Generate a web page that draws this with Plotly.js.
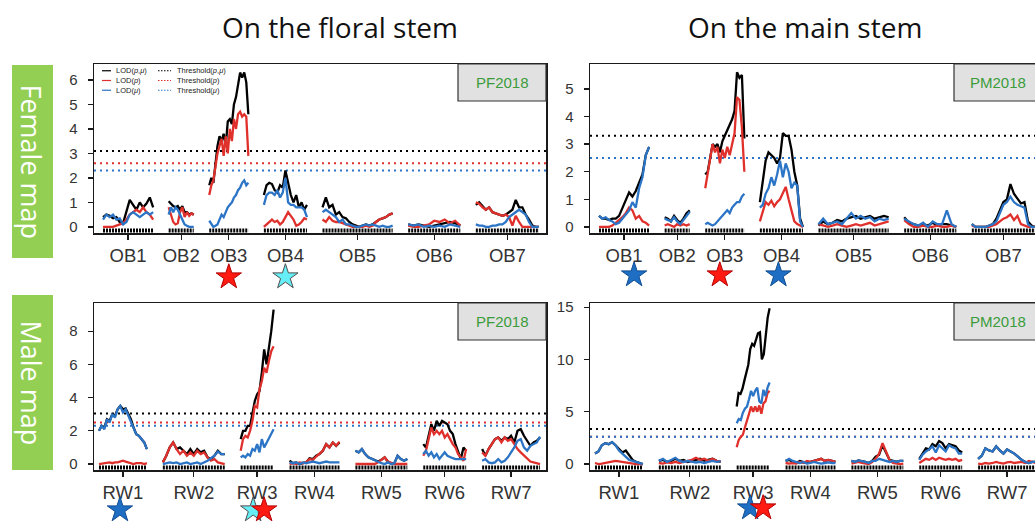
<!DOCTYPE html>
<html><head><meta charset="utf-8">
<script src="https://cdn.plot.ly/plotly-3.0.1.min.js"></script>
<style>html,body{margin:0;padding:0;overflow:hidden;background:#fff}#g{width:1042px;height:525px}</style>
</head><body><div id="g"></div><script>
const W = 1042, H = 525;

// ---- maps ----
const FEMALE_CHR = ['OB1','OB2','OB3','OB4','OB5','OB6','OB7'];
const FEMALE_LEN = [100, 50, 78, 86, 140, 104, 126];
const FEMALE_GAP = 31;
const MALE_CHR = ['RW1','RW2','RW3','RW4','RW5','RW6','RW7'];
const MALE_LEN = [96, 124, 66, 100, 104, 86, 116];
const MALE_GAP = 32;

// ---- Female map, floral stem (PF2018) ----
const PF_F_PMU = [
 [0.4,0.5,0.45,0.35,0.4,0.2,0.15,0.6,1.1,0.9,0.7,1.0,0.8,0.95,1.2,0.8],
 [1.05,0.95,0.85,0.8,0.85,0.7,0.85,0.6,0.6,0.5,0.55,0.5],
 [1.7,2.0,1.8,2.6,3.3,3.7,3.5,3.8,3.3,4.3,4.4,4.2,5.0,5.3,5.9,6.3,6.1,6.3,5.9,4.6],
 [1.3,1.7,1.8,1.75,1.5,1.4,1.7,1.6,2.3,1.8,1.3,1.0,1.3,0.8,1.0,0.7,0.9],
 [0.8,1.2,0.8,0.9,0.5,0.6,0.4,0.35,0.2,0.1,0.05,0.0,0.05,0.1,0.05,0.1,0.2,0.3,0.35,0.4,0.5,0.55],
 [0.1,0.05,0.1,0.05,0.0,0.05,0.1,0.15,0.2,0.15,0.05],
 [0.9,1.0,0.85,0.7,0.8,0.6,0.55,0.5,0.45,0.5,0.6,0.7,1.1,0.8,0.8,0.5,0.3,0.05,0.0,0.0]
];
const PF_F_P = [
 [0.0,0.0,0.0,0.0,0.05,0.1,0.15,0.3,0.5,0.6,0.7,0.6,0.8,0.6,0.5,0.3],
 [0.8,0.5,0.2,0.1,0.15,0.6,0.8,0.4,0.6,0.45,0.55,0.5],
 [1.3,1.7,1.9,2.5,3.0,3.3,3.6,2.9,3.7,3.0,4.0,3.5,4.4,4.0,4.6,4.7,4.5,4.6,4.5,2.9],
 [0.0,0.1,0.2,0.3,0.2,0.25,0.1,0.2,0.4,0.6,0.45,0.3,0.05,0.1,0.2,0.35,0.3],
 [0.3,0.2,0.4,0.25,0.2,0.2,0.15,0.1,0.05,0.0,0.0,0.0,0.0,0.05,0.0,0.05,0.2,0.3,0.35,0.4,0.5,0.55],
 [0.05,0.0,0.0,0.05,0.1,0.25,0.2,0.3,0.15,0.25,0.05],
 [1.0,0.95,0.8,0.7,0.8,0.6,0.55,0.5,0.45,0.5,0.4,0.05,0.45,0.2,0.0,0.0,0.0,0.0,0.0,0.0]
];
const PF_F_MU = [
 [0.3,0.5,0.4,0.5,0.3,0.35,0.1,0.2,0.5,0.6,0.5,0.4,0.5,0.6,0.5,0.6],
 [0.5,0.8,0.6,0.8,0.7,0.5,0.3,0.1,0.05,0.0,0.0,0.0],
 [0.25,0.1,0.0,0.05,0.1,0.3,0.5,0.4,0.6,0.8,0.9,1.0,1.2,1.3,1.5,1.6,1.8,1.9,1.7,1.8],
 [0.9,1.3,1.4,1.4,1.3,1.5,1.2,1.4,2.0,1.0,0.9,0.9,0.8,0.8,0.8,0.7,0.4],
 [0.6,0.7,0.6,0.5,0.4,0.2,0.3,0.1,0.1,0.05,0.0,0.0,0.05,0.1,0.05,0.1,0.05,0.0,0.05,0.0,0.0,0.05],
 [0.1,0.05,0.1,0.0,0.05,0.0,0.05,0.0,0.1,0.05,0.0],
 [0.1,0.05,0.05,0.0,0.0,0.05,0.05,0.1,0.1,0.2,0.4,0.5,0.6,0.7,0.6,0.5,0.2,0.0,0.0,0.0]
];
const PF_F_THR = [3.1, 2.6, 2.3];   // p,mu ; p ; mu

// ---- Female map, main stem (PM2018) ----
const PM_F_PMU = [
 [0.4,0.3,0.3,0.25,0.3,0.3,0.4,0.7,1.0,1.25,1.1,1.3,1.6,1.9,2.6,2.9],
 [0.35,0.3,0.2,0.4,0.25,0.15,0.3,0.5,0.6],
 [1.9,2.0,2.5,3.0,2.9,3.0,2.7,3.1,3.3,3.5,3.7,3.9,4.2,5.6,5.4,5.5,3.2],
 [0.9,1.6,2.4,2.7,2.6,2.5,2.3,2.5,3.4,3.3,3.3,2.8,2.0,1.5,0.3,0.0],
 [0.05,0.2,0.1,0.15,0.25,0.2,0.3,0.35,0.4,0.3,0.35,0.4,0.3,0.35,0.4,0.35],
 [0.35,0.15,0.1,0.05,0.1,0.05,0.15,0.05,0.1,0.1,0.05,0.0],
 [0.1,0.0,0.0,0.0,0.0,0.05,0.1,0.3,0.6,0.9,1.0,1.55,1.2,1.0,0.85,0.9,0.2,0.05,0.0]
];
const PM_F_P = [
 [0.0,0.0,0.0,0.0,0.05,0.15,0.25,0.35,0.5,0.7,0.6,0.3,0.4,0.2,0.15,0.05],
 [0.05,0.1,0.05,0.0,0.1,0.05,0.1,0.05,0.1],
 [1.4,1.9,2.5,3.0,2.7,2.9,2.3,2.8,2.5,2.9,2.6,3.0,3.4,4.7,4.6,3.6,2.0],
 [0.2,0.6,0.9,0.8,0.95,0.75,0.9,1.0,1.2,1.45,1.0,0.6,0.2,0.1,0.05,0.0],
 [0.1,0.05,0.0,0.05,0.1,0.05,0.0,0.05,0.1,0.05,0.1,0.15,0.05,0.1,0.15,0.2],
 [0.25,0.1,0.0,0.0,0.05,0.0,0.0,0.05,0.0,0.0,0.05,0.0],
 [0.05,0.0,0.0,0.0,0.0,0.0,0.05,0.1,0.2,0.3,0.35,0.45,0.25,0.4,0.1,0.05,0.0,0.0,0.0]
];
const PM_F_MU = [
 [0.4,0.3,0.35,0.25,0.2,0.1,0.15,0.3,0.45,0.6,0.9,0.7,1.4,1.8,2.6,2.9],
 [0.3,0.25,0.2,0.35,0.2,0.1,0.25,0.4,0.55],
 [0.1,0.15,0.1,0.05,0.1,0.2,0.3,0.4,0.5,0.6,0.5,0.7,0.8,0.9,0.9,1.1,1.2],
 [0.7,0.8,1.2,1.4,1.8,1.5,1.9,2.4,1.8,2.3,2.0,1.4,1.6,1.5,0.2,0.0],
 [0.1,0.3,0.1,0.15,0.2,0.1,0.3,0.5,0.3,0.4,0.3,0.35,0.2,0.3,0.25,0.3],
 [0.3,0.2,0.1,0.05,0.15,0.0,0.2,0.1,0.1,0.6,0.1,0.0],
 [0.1,0.0,0.0,0.0,0.0,0.05,0.1,0.2,0.5,0.8,0.9,1.1,0.9,0.8,0.75,0.7,0.1,0.0,0.0]
];
const PM_F_THR = [3.3, 2.5, 2.5];

// ---- Male map, floral stem (PF2018) ----
const PF_M_PMU = [
 [2.0,2.3,2.2,2.7,2.6,3.0,2.9,3.3,3.5,3.3,3.35,3.0,2.7,2.2,1.8,1.7,1.5,1.3,0.9],
 [0.1,0.5,1.0,1.3,0.9,1.0,0.8,0.6,0.9,0.6,0.9,0.7,0.8,0.4,0.3,0.5,0.8,0.6,0.6],
 [1.5,2.0,2.0,2.3,2.3,3.0,3.8,4.2,4.4,5.5,6.9,6.0,6.9,8.0,9.3],
 [0.2,0.05,0.1,0.0,0.05,0.1,0.35,0.3,0.5,0.6,0.8,1.2,1.0,1.3,1.1,1.3],
 [0.8,0.7,0.9,0.6,0.4,0.3,0.2,0.15,0.25,0.4,0.15,0.05,0.05,0.5,0.3,0.2,0.3],
 [1.2,1.0,1.7,2.4,2.0,2.6,2.3,2.6,2.5,2.4,2.0,1.8,1.2,0.7,0.3,1.0,0.8],
 [0.9,0.5,0.9,1.2,1.5,1.6,1.4,1.6,1.5,1.7,1.3,2.0,2.1,1.7,1.4,1.1,1.3,1.4,1.6]
];
const PF_M_P = [
 [0.0,0.02,0.05,0.05,0.1,0.05,0.1,0.1,0.15,0.2,0.15,0.1,0.05,0.0,0.05,0.05,0.05,0.0,0.05],
 [0.1,0.5,1.0,1.3,0.9,0.6,0.8,0.5,0.7,0.5,0.8,0.6,0.7,0.4,0.2,0.3,0.1,0.05,0.0],
 [0.8,1.5,1.7,1.6,2.0,2.6,3.5,3.4,4.5,5.0,5.8,5.5,6.2,6.8,7.1],
 [0.0,0.05,0.0,0.1,0.05,0.1,0.3,0.25,0.45,0.6,0.8,1.2,1.0,1.3,1.1,1.35],
 [0.0,0.0,0.0,0.0,0.0,0.0,0.0,0.1,0.25,0.4,0.15,0.05,0.0,0.0,0.0,0.0,0.0],
 [0.5,0.8,1.5,2.2,1.8,2.0,1.8,2.0,1.6,1.8,1.5,1.2,1.0,0.6,0.4,0.2,0.9],
 [0.7,0.5,0.9,1.2,1.5,1.6,1.3,1.6,1.4,1.5,1.2,0.9,0.7,0.5,0.3,0.15,0.1,0.05,0.0]
];
const PF_M_MU = [
 [2.0,2.3,2.1,2.7,2.5,3.0,2.8,3.3,3.5,3.1,3.3,2.9,2.5,2.2,1.8,1.7,1.5,1.3,0.9],
 [0.0,0.05,0.1,0.05,0.1,0.0,0.05,0.1,0.0,0.05,0.1,0.0,0.1,0.2,0.35,0.5,0.75,0.6,0.6],
 [0.4,0.5,0.4,0.6,0.5,0.9,0.8,1.2,0.7,1.5,1.0,1.3,1.6,1.8,2.1],
 [0.1,0.05,0.1,0.0,0.1,0.05,0.1,0.15,0.1,0.05,0.1,0.15,0.1,0.1,0.1,0.1],
 [0.8,0.7,0.9,0.6,0.4,0.3,0.2,0.1,0.05,0.0,0.1,0.0,0.05,0.5,0.3,0.2,0.3],
 [0.6,0.8,0.5,0.7,0.4,0.6,0.3,0.5,0.7,0.5,0.4,0.35,0.3,0.3,0.3,0.3,0.3],
 [0.2,0.3,0.1,0.05,0.1,0.3,0.1,0.2,0.4,0.7,1.0,1.4,1.5,1.0,0.8,1.1,1.2,1.3,1.65]
];
const PF_M_THR = [3.05, 2.5, 2.3];

// ---- Male map, main stem (PM2018) ----
const PM_M_PMU = [
 [1.0,1.2,1.8,2.0,1.9,2.1,1.8,1.4,1.1,1.3,0.8,0.4,0.2,0.1,0.0],
 [0.3,0.4,0.2,0.3,0.5,0.3,0.4,0.2,0.3,0.4,0.5,0.3,0.4,0.5,0.3,0.2],
 [5.5,6.8,6.7,7.2,8.0,8.8,9.5,11.0,11.5,11.3,12.0,12.5,12.6,10.0,10.5,12.5,14.0,14.9],
 [0.3,0.4,0.2,0.1,0.3,0.2,0.1,0.2,0.3,0.4,0.5,0.3,0.4,0.3,0.2],
 [0.3,0.2,0.35,0.3,0.2,0.1,0.3,0.7,0.9,1.8,1.1,0.4,0.3,0.2,0.3,0.3],
 [0.5,1.0,1.5,1.4,1.9,1.7,2.2,2.0,1.5,1.9,1.8,1.7,1.3,1.1],
 [0.5,0.8,1.5,1.3,1.2,1.7,1.3,1.0,1.4,1.2,1.0,0.7,0.4,0.2,0.1,0.2,0.2]
];
const PM_M_P = [
 [0.1,0.0,0.05,0.1,0.15,0.2,0.3,0.25,0.2,0.1,0.05,0.0,0.0,0.0,0.0],
 [0.1,0.05,0.15,0.1,0.2,0.1,0.2,0.3,0.4,0.6,0.4,0.5,0.3,0.5,0.3,0.2],
 [1.6,2.3,2.6,2.8,3.5,4.3,4.8,5.5,5.0,5.5,5.0,5.6,4.8,5.8,6.0,6.8,7.0],
 [0.1,0.05,0.1,0.05,0.2,0.1,0.3,0.2,0.3,0.4,0.5,0.3,0.4,0.3,0.2],
 [0.05,0.1,0.2,0.1,0.05,0.0,0.2,0.5,1.0,2.0,1.2,0.4,0.1,0.05,0.0,0.05],
 [0.1,0.3,0.5,0.4,0.6,0.4,0.6,0.5,0.4,0.5,0.4,0.5,0.3,0.4],
 [0.05,0.0,0.1,0.05,0.1,0.2,0.1,0.05,0.15,0.2,0.1,0.15,0.2,0.1,0.3,0.2,0.1]
];
const PM_M_MU = [
 [1.0,1.2,1.8,2.0,1.9,2.1,1.8,1.3,1.0,0.7,0.4,0.3,0.2,0.1,0.0],
 [0.3,0.5,0.2,0.4,0.6,0.3,0.2,0.3,0.2,0.15,0.2,0.1,0.2,0.3,0.2,0.25],
 [3.9,4.3,4.2,4.9,5.3,5.5,6.2,7.0,6.5,7.0,7.3,6.0,5.8,7.1,6.5,7.3,7.8],
 [0.3,0.5,0.3,0.2,0.1,0.2,0.05,0.1,0.2,0.1,0.05,0.1,0.15,0.1,0.1],
 [0.3,0.2,0.35,0.3,0.2,0.1,0.3,0.3,0.5,0.4,0.3,0.2,0.3,0.2,0.3,0.3],
 [0.4,0.9,1.2,1.4,1.7,1.1,1.8,1.5,1.2,1.8,1.6,1.5,1.0,1.0],
 [0.5,0.8,1.5,1.3,1.2,1.7,1.3,1.0,1.4,1.2,1.0,0.7,0.4,0.2,0.1,0.2,0.2]
];
const PM_M_THR = [3.35, 2.6, 2.6];

// ---- QTL stars under the chromosomes (chromosome, LOD type) ----
const PF_F_STAR_CHR = ['OB3','OB4'];       const PF_F_STAR_TYPE = ['p','joint'];
const PM_F_STAR_CHR = ['OB1','OB3','OB4']; const PM_F_STAR_TYPE = ['mu','p','mu'];
const PF_M_STAR_CHR = ['RW1','RW3','RW3']; const PF_M_STAR_TYPE = ['mu','joint','p'];
const PM_M_STAR_CHR = ['RW3','RW3'];       const PM_M_STAR_TYPE = ['mu','p'];

// ---- legend texts ----
const LOD_LABELS = ['LOD(<i>p</i>,<i>μ</i>)','LOD(<i>p</i>)','LOD(<i>μ</i>)'];
const THR_LABELS = ['Threshold(<i>p</i>,<i>μ</i>)','Threshold(<i>p</i>)','Threshold(<i>μ</i>)'];

// ---------------- drawing ----------------
const COL = {pmu:'#000000', p:'#e0302c', mu:'#2b74c6'};
const STAR_STYLE = {
  p:{fill:'#ff1a12', line:'#b30000'},
  mu:{fill:'#1e6ec4', line:'#0f4c92'},
  joint:{fill:'#66eef6', line:'#4d4d4d'}
};
const TXT = 'Liberation Sans, Arial, sans-serif';

function starts(len, gap){ const s=[]; let c=0; for(const l of len){ s.push(c); c+=l+gap; } return s; }
function series(vals, len, gap){
  const st = starts(len, gap), x=[], y=[];
  vals.forEach((v,i)=>{ const n=v.length; v.forEach((val,k)=>{ x.push(st[i]+len[i]*k/(n-1)); y.push(val); }); x.push(null); y.push(null); });
  return {x, y};
}

const panels = [
  {chr:FEMALE_CHR, len:FEMALE_LEN, gap:FEMALE_GAP, pmu:PF_F_PMU, p:PF_F_P, mu:PF_F_MU, thr:PF_F_THR, tag:'PF2018',
   starChr:PF_F_STAR_CHR, starType:PF_F_STAR_TYPE, starOff:[0,0], starY:277,
   px:[94,546], py:[64,233], xr:[-18,884], yr:[-0.25,6.65], dtick:1},
  {chr:FEMALE_CHR, len:FEMALE_LEN, gap:FEMALE_GAP, pmu:PM_F_PMU, p:PM_F_P, mu:PM_F_MU, thr:PM_F_THR, tag:'PM2018',
   starChr:PM_F_STAR_CHR, starType:PM_F_STAR_TYPE, starOff:[20,-10,-6], starY:275,
   px:[590,1042], py:[64,233], xr:[-18,884], yr:[-0.22,5.9], dtick:1},
  {chr:MALE_CHR, len:MALE_LEN, gap:MALE_GAP, pmu:PF_M_PMU, p:PF_M_P, mu:PF_M_MU, thr:PF_M_THR, tag:'PF2018',
   starChr:PF_M_STAR_CHR, starType:PF_M_STAR_TYPE, starOff:[-6,-8,14], starY:511,
   px:[94,546], py:[303,470], xr:[-10,896], yr:[-0.36,9.7], dtick:2},
  {chr:MALE_CHR, len:MALE_LEN, gap:MALE_GAP, pmu:PM_M_PMU, p:PM_M_P, mu:PM_M_MU, thr:PM_M_THR, tag:'PM2018',
   starChr:PM_M_STAR_CHR, starType:PM_M_STAR_TYPE, starOff:[-6,20], starY:508,
   px:[590,1042], py:[303,470], xr:[-10,896], yr:[-0.57,15.4], dtick:5}
];

const traces = [], shapes = [], annotations = [];
const layout = {width:W, height:H, margin:{l:0,r:0,t:0,b:0}, showlegend:false,
  paper_bgcolor:'#fff', plot_bgcolor:'#fff', shapes, annotations};

panels.forEach((P, idx) => {
  const i = idx+1;
  const xa = i===1 ? 'x' : 'x'+i, ya = i===1 ? 'y' : 'y'+i, sa = 'y'+(i+4);
  const st = starts(P.len, P.gap);
  const centers = st.map((s,k)=>s+P.len[k]/2);
  const axLine = {showline:true, mirror:true, linecolor:'#1a1a1a', linewidth:1.5, showgrid:false, zeroline:false,
    ticks:'outside', ticklen:5, tickwidth:1.3, tickcolor:'#1a1a1a', fixedrange:true};
  layout['xaxis'+(i===1?'':i)] = Object.assign({}, axLine, {domain:[P.px[0]/W, P.px[1]/W], range:P.xr, anchor:ya,
    tickmode:'array', tickvals:centers, ticktext:P.chr, tickfont:{family:TXT, size:18.5, color:'#333'}});
  layout['yaxis'+(i===1?'':i)] = Object.assign({}, axLine, {domain:[1-P.py[1]/H, 1-P.py[0]/H], range:P.yr, anchor:xa,
    tick0:0, dtick:P.dtick, tickfont:{family:TXT, size:15, color:'#333'}, ticklabelstandoff:7});
  layout['yaxis'+(i+4)] = {domain:[1-(P.starY+16)/H, 1-(P.starY-16)/H], range:[-1,1], anchor:xa, visible:false, fixedrange:true};

  // thresholds
  const thrCol = [COL.pmu, COL.p, COL.mu];
  P.thr.forEach((t,k)=>{
    traces.push({type:'scatter', mode:'lines', xaxis:xa, yaxis:ya, x:[P.xr[0], P.xr[1]], y:[t,t],
      line:{color:thrCol[k], width:2, dash:'2px,4px'}, hoverinfo:'skip'});
  });
  // marker rug
  const ppu = (P.py[1]-P.py[0])/(P.yr[1]-P.yr[0]);
  const rx=[], ry=[];
  st.forEach((s,k)=>{ rx.push(s, s+P.len[k], null); const yy=P.yr[0]+2.5/ppu; ry.push(yy, yy, null); });
  traces.push({type:'scatter', mode:'lines', xaxis:xa, yaxis:ya, x:rx, y:ry, line:{color:'#000', width:4, dash:'2px,1px'}, hoverinfo:'skip'});
  // LOD curves
  [['pmu',P.pmu],['p',P.p],['mu',P.mu]].forEach(([k,vals])=>{
    const s = series(vals, P.len, P.gap);
    traces.push({type:'scatter', mode:'lines', xaxis:xa, yaxis:ya, x:s.x, y:s.y, connectgaps:false,
      line:{color:COL[k], width:2.3}, hoverinfo:'skip'});
  });
  // stars
  P.starChr.forEach((c,k)=>{
    const ci = P.chr.indexOf(c); const sty = STAR_STYLE[P.starType[k]];
    traces.push({type:'scatter', mode:'markers', xaxis:xa, yaxis:sa, x:[centers[ci]+P.starOff[k]], y:[0],
      marker:{symbol:'star', size:19, color:sty.fill, line:{color:sty.line, width:1}}, hoverinfo:'skip'});
  });
  // tag box
  const bx1 = P.px[1], bx0 = bx1-88, by0 = P.py[0], by1 = P.py[0]+37;
  shapes.push({type:'rect', xref:'paper', yref:'paper', x0:bx0/W, x1:bx1/W, y0:1-by1/H, y1:1-by0/H,
    fillcolor:'#e1e1e1', line:{color:'#333', width:1.2}, layer:'above'});
  annotations.push({xref:'paper', yref:'paper', x:(bx0+bx1)/2/W, y:1-(by0+by1)/2/H, text:P.tag, showarrow:false,
    font:{family:TXT, size:15, color:'#3a9c3a'}, xanchor:'center', yanchor:'middle'});
});

// legend (panel 1): one text block per column, key lines beside each row
const legFont = 7.5, legLine = legFont*1.3, legMid = 80.5;
const legCol = [COL.pmu, COL.p, COL.mu];
[0,1,2].forEach(k=>{
  const ry = legMid + (k-1)*legLine;
  shapes.push({type:'line', xref:'paper', yref:'paper', x0:102/W, x1:111/W, y0:1-ry/H, y1:1-ry/H, line:{color:legCol[k], width:1.2}});
  shapes.push({type:'line', xref:'paper', yref:'paper', x0:158/W, x1:171/W, y0:1-ry/H, y1:1-ry/H, line:{color:legCol[k], width:1.2, dash:'1.5px,1.5px'}});
});
annotations.push({xref:'paper', yref:'paper', x:114/W, y:1-legMid/H, text:LOD_LABELS.join('<br>'), showarrow:false, align:'left',
  xanchor:'left', yanchor:'middle', font:{family:TXT, size:legFont, color:'#222'}});
annotations.push({xref:'paper', yref:'paper', x:175/W, y:1-legMid/H, text:THR_LABELS.join('<br>'), showarrow:false, align:'left',
  xanchor:'left', yanchor:'middle', font:{family:TXT, size:legFont, color:'#222'}});

// column titles
annotations.push({xref:'paper', yref:'paper', x:340/W, y:1-27/H, text:'On the floral stem', showarrow:false,
  font:{family:'Open Sans, sans-serif', size:28, color:'#111'}, xanchor:'center', yanchor:'middle'});
annotations.push({xref:'paper', yref:'paper', x:805/W, y:1-27/H, text:'On the main stem', showarrow:false,
  font:{family:'Open Sans, sans-serif', size:28, color:'#111'}, xanchor:'center', yanchor:'middle'});

// side labels
[[65,258,'Female map'],[295,470,'Male map']].forEach(([y0,y1,t])=>{
  shapes.push({type:'rect', xref:'paper', yref:'paper', x0:12/W, x1:53/W, y0:1-y1/H, y1:1-y0/H, fillcolor:'#92cf52', line:{width:0}});
  annotations.push({xref:'paper', yref:'paper', x:31/W, y:1-(y0+y1)/2/H, text:t, textangle:90, showarrow:false,
    font:{family:'Open Sans, sans-serif', size:27, color:'#fff'}, xanchor:'center', yanchor:'middle'});
});

Plotly.newPlot('g', traces, layout, {displayModeBar:false, staticPlot:true});
</script></body></html>
